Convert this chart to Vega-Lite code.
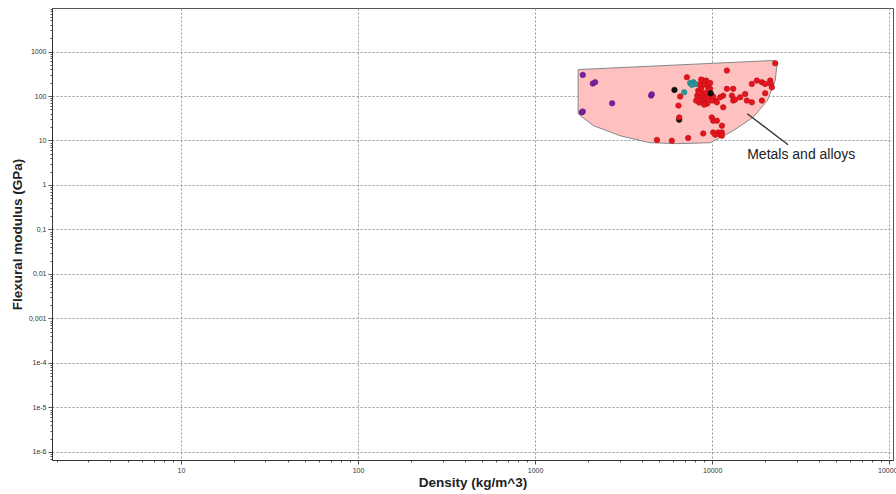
{
  "$schema": "https://vega.github.io/schema/vega-lite/v6.json",
  "width": 841,
  "height": 452,
  "autosize": {"type": "none"},
  "padding": {"left": 52, "top": 8, "right": 3, "bottom": 34},
  "background": "white",
  "config": {
    "view": {"stroke": "#555", "strokeWidth": 1},
    "font": "Liberation Sans"
  },
  "datasets": {
    "envelope": [
      {"o": 1, "density": 1750, "modulus": 393},
      {"o": 2, "density": 22100, "modulus": 627},
      {"o": 3, "density": 23300, "modulus": 565},
      {"o": 4, "density": 22700, "modulus": 222},
      {"o": 5, "density": 20500, "modulus": 79},
      {"o": 6, "density": 17000, "modulus": 33},
      {"o": 7, "density": 13150, "modulus": 16.6},
      {"o": 8, "density": 9740, "modulus": 8.9},
      {"o": 9, "density": 6340, "modulus": 8.5},
      {"o": 10, "density": 4460, "modulus": 8.9},
      {"o": 11, "density": 3020, "modulus": 12.8},
      {"o": 12, "density": 2130, "modulus": 21.6},
      {"o": 13, "density": 1750, "modulus": 40}
    ],
    "leader": [
      {"density": 15780, "modulus": 40, "density2": 26850, "modulus2": 8.03, "label": "Metals and alloys", "tx": 31850, "ty": 4.79}
    ],
    "points": [
      {"group": "purple", "density": 1860, "modulus": 298},
      {"group": "purple", "density": 2118, "modulus": 190},
      {"group": "purple", "density": 2183, "modulus": 204},
      {"group": "purple", "density": 4519, "modulus": 102},
      {"group": "purple", "density": 4560, "modulus": 109},
      {"group": "purple", "density": 2723, "modulus": 68.5},
      {"group": "purple", "density": 1837, "modulus": 43},
      {"group": "purple", "density": 1860, "modulus": 44.6},
      {"group": "red", "density": 7197, "modulus": 264},
      {"group": "red", "density": 6595, "modulus": 97},
      {"group": "red", "density": 6452, "modulus": 60.8},
      {"group": "black", "density": 6513, "modulus": 29.4},
      {"group": "red", "density": 6513, "modulus": 33.1},
      {"group": "red", "density": 4877, "modulus": 10.3},
      {"group": "red", "density": 5918, "modulus": 9.9},
      {"group": "red", "density": 7318, "modulus": 11.4},
      {"group": "red", "density": 8900, "modulus": 14.4},
      {"group": "red", "density": 9950, "modulus": 33.1},
      {"group": "red", "density": 10130, "modulus": 27.9},
      {"group": "red", "density": 10630, "modulus": 27.9},
      {"group": "red", "density": 11350, "modulus": 21.5},
      {"group": "red", "density": 10130, "modulus": 15.2},
      {"group": "red", "density": 10820, "modulus": 15.2},
      {"group": "red", "density": 11350, "modulus": 15.2},
      {"group": "red", "density": 10400, "modulus": 13.5},
      {"group": "red", "density": 11100, "modulus": 13.5},
      {"group": "red", "density": 11350, "modulus": 12.8},
      {"group": "red", "density": 11540, "modulus": 55.6},
      {"group": "red", "density": 10400, "modulus": 78.8},
      {"group": "red", "density": 10630, "modulus": 72},
      {"group": "red", "density": 9130, "modulus": 72},
      {"group": "red", "density": 9950, "modulus": 86},
      {"group": "red", "density": 11540, "modulus": 102},
      {"group": "red", "density": 12110, "modulus": 145},
      {"group": "red", "density": 13140, "modulus": 145},
      {"group": "red", "density": 12920, "modulus": 102},
      {"group": "red", "density": 13140, "modulus": 78.8},
      {"group": "red", "density": 14390, "modulus": 93.5},
      {"group": "red", "density": 15360, "modulus": 111},
      {"group": "red", "density": 15690, "modulus": 78.8},
      {"group": "red", "density": 16750, "modulus": 72},
      {"group": "red", "density": 13490, "modulus": 83},
      {"group": "red", "density": 12110, "modulus": 373},
      {"group": "red", "density": 16750, "modulus": 187},
      {"group": "red", "density": 17890, "modulus": 222},
      {"group": "red", "density": 19090, "modulus": 204},
      {"group": "red", "density": 19920, "modulus": 187},
      {"group": "red", "density": 21260, "modulus": 222},
      {"group": "red", "density": 21460, "modulus": 187},
      {"group": "red", "density": 21730, "modulus": 157},
      {"group": "red", "density": 19920, "modulus": 115},
      {"group": "red", "density": 19090, "modulus": 78.8},
      {"group": "red", "density": 22700, "modulus": 545},
      {"group": "red", "density": 11100, "modulus": 93.5},
      {"group": "red", "density": 8340, "modulus": 132},
      {"group": "red", "density": 8670, "modulus": 147},
      {"group": "red", "density": 9020, "modulus": 181},
      {"group": "red", "density": 9250, "modulus": 222},
      {"group": "red", "density": 8550, "modulus": 97},
      {"group": "red", "density": 8900, "modulus": 113},
      {"group": "red", "density": 9250, "modulus": 119},
      {"group": "red", "density": 9490, "modulus": 155},
      {"group": "red", "density": 8790, "modulus": 78.8},
      {"group": "red", "density": 9130, "modulus": 87.4},
      {"group": "red", "density": 9490, "modulus": 92},
      {"group": "red", "density": 8230, "modulus": 102},
      {"group": "red", "density": 8450, "modulus": 181},
      {"group": "red", "density": 8900, "modulus": 222},
      {"group": "red", "density": 9740, "modulus": 197},
      {"group": "red", "density": 9370, "modulus": 67.5},
      {"group": "red", "density": 9950, "modulus": 78.8},
      {"group": "red", "density": 10130, "modulus": 97},
      {"group": "red", "density": 8450, "modulus": 71},
      {"group": "red", "density": 9020, "modulus": 64},
      {"group": "red", "density": 8670, "modulus": 234},
      {"group": "red", "density": 8120, "modulus": 78.8},
      {"group": "red", "density": 9740, "modulus": 145},
      {"group": "red", "density": 8450, "modulus": 119},
      {"group": "teal", "density": 7510, "modulus": 197},
      {"group": "teal", "density": 7838, "modulus": 204},
      {"group": "teal", "density": 8010, "modulus": 187},
      {"group": "teal", "density": 7680, "modulus": 178},
      {"group": "teal", "density": 6950, "modulus": 121},
      {"group": "black", "density": 6124, "modulus": 137},
      {"group": "black", "density": 9820, "modulus": 115}
    ]
  },
  "encoding": {
    "x": {
      "field": "density", "type": "quantitative",
      "scale": {"type": "log", "domain": [1.87, 105000], "nice": false, "zero": false},
      "axis": {
        "title": "Density (kg/m^3)",
        "titleFont": "Liberation Sans", "titleFontSize": 13.5, "titleFontWeight": "bold", "titleColor": "#222",
        "titlePadding": 2,
        "values": [2,3,4,5,6,7,8,9,10,20,30,40,50,60,70,80,90,100,200,300,400,500,600,700,800,900,1000,2000,3000,4000,5000,6000,7000,8000,9000,10000,20000,30000,40000,50000,60000,70000,80000,90000,100000],
        "labelExpr": "abs(log(datum.value)/LN10 - round(log(datum.value)/LN10)) > 0.001 ? '' : format(datum.value, 'd')",
        "labelFontSize": 7, "labelColor": "#333", "labelPadding": 2, "labelFlush": false, "labelOverlap": false,
        "domainColor": "#333",
        "tickColor": "#555",
        "tickSize": {"condition": {"test": "abs(log(datum.value)/LN10 - round(log(datum.value)/LN10)) < 0.001", "value": 4}, "value": 2},
        "grid": true,
        "gridColor": "#999", "gridDash": [2, 2],
        "gridOpacity": {"condition": {"test": "abs(log(datum.value)/LN10 - round(log(datum.value)/LN10)) < 0.001", "value": 1}, "value": 0}
      }
    },
    "y": {
      "field": "modulus", "type": "quantitative",
      "scale": {"type": "log", "domain": [6.6e-7, 9500], "nice": false, "zero": false},
      "axis": {
        "title": "Flexural modulus (GPa)",
        "titleFont": "Liberation Sans", "titleFontSize": 13.5, "titleFontWeight": "bold", "titleColor": "#222",
        "titlePadding": 4,
        "values": [7e-7,8e-7,9e-7,1e-6,2e-6,3e-6,4e-6,5e-6,6e-6,7e-6,8e-6,9e-6,1e-5,2e-5,3e-5,4e-5,5e-5,6e-5,7e-5,8e-5,9e-5,1e-4,2e-4,3e-4,4e-4,5e-4,6e-4,7e-4,8e-4,9e-4,0.001,0.002,0.003,0.004,0.005,0.006,0.007,0.008,0.009,0.01,0.02,0.03,0.04,0.05,0.06,0.07,0.08,0.09,0.1,0.2,0.3,0.4,0.5,0.6,0.7,0.8,0.9,1,2,3,4,5,6,7,8,9,10,20,30,40,50,60,70,80,90,100,200,300,400,500,600,700,800,900,1000,2000,3000,4000,5000,6000,7000,8000,9000],
        "labelExpr": "abs(log(datum.value)/LN10 - round(log(datum.value)/LN10)) > 0.001 ? '' : datum.value >= 1 ? format(datum.value, 'd') : datum.value >= 0.00099 ? replace(format(datum.value, '.3~f'), '.', ',') : '1e' + round(log(datum.value)/LN10)",
        "labelFontSize": 7, "labelColor": "#333", "labelPadding": 2, "labelFlush": false, "labelOverlap": false,
        "domainColor": "#333",
        "tickColor": "#555",
        "tickSize": {"condition": {"test": "abs(log(datum.value)/LN10 - round(log(datum.value)/LN10)) < 0.001", "value": 4}, "value": 2},
        "grid": true,
        "gridColor": "#999", "gridDash": [2, 2],
        "gridOpacity": {"condition": {"test": "abs(log(datum.value)/LN10 - round(log(datum.value)/LN10)) < 0.001", "value": 1}, "value": 0}
      }
    }
  },
  "layer": [
    {
      "data": {"name": "envelope"},
      "mark": {"type": "line", "interpolate": "linear-closed", "fill": "#ffc0c0", "stroke": "#888", "strokeWidth": 1},
      "encoding": {"order": {"field": "o", "type": "quantitative"}}
    },
    {
      "data": {"name": "points"},
      "mark": {"type": "circle", "size": 30, "opacity": 1, "strokeWidth": 0.6},
      "encoding": {
        "color": {
          "field": "group", "type": "nominal",
          "scale": {"domain": ["red", "purple", "teal", "black"], "range": ["#e8131b", "#7d1f9e", "#2a9a9a", "#111111"]},
          "legend": null
        },
        "stroke": {
          "field": "group", "type": "nominal",
          "scale": {"domain": ["red", "purple", "teal", "black"], "range": ["#b0101a", "#5e1578", "#1f7575", "#000000"]},
          "legend": null
        }
      }
    },
    {
      "data": {"name": "leader"},
      "mark": {"type": "rule", "color": "#333", "strokeWidth": 1.3},
      "encoding": {
        "x2": {"field": "density2"},
        "y2": {"field": "modulus2"}
      }
    },
    {
      "data": {"name": "leader"},
      "mark": {"type": "text", "font": "Liberation Sans", "fontSize": 14, "color": "#222", "align": "center", "baseline": "middle"},
      "encoding": {
        "x": {"field": "tx", "type": "quantitative"},
        "y": {"field": "ty", "type": "quantitative"},
        "text": {"field": "label"}
      }
    }
  ]
}
